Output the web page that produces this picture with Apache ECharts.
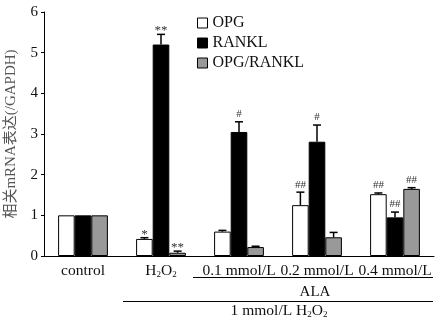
<!DOCTYPE html>
<html>
<head>
<meta charset="utf-8">
<script src="https://cdn.jsdelivr.net/npm/echarts@6/dist/echarts.min.js"></script>
<style>
  html, body { margin: 0; padding: 0; background: #fff; }
  #chart { width: 448px; height: 327px; }
</style>
</head>
<body>
<div id="chart"></div>
<script>
// groups on the x axis
const categories = ['control', 'H2O2', '0.1 mmol/L', '0.2 mmol/L', '0.4 mmol/L']
const seriesNames = ['OPG', 'RANKL', 'OPG/RANKL']

// mean values
const opg = [1.0, 0.42, 0.6, 1.25, 1.52]
const rankl = [1.0, 5.2, 3.05, 2.81, 0.95]
const ratio = [1.0, 0.08, 0.22, 0.46, 1.65]

// upper error (SD)
const opgErr = [0, 0.03, 0.03, 0.32, 0.03]
const ranklErr = [0, 0.25, 0.25, 0.41, 0.13]
const ratioErr = [0, 0.04, 0.02, 0.12, 0.03]

// significance marks
const opgSig = ['', '*', '', '##', '##']
const ranklSig = ['', '**', '#', '#', '##']
const ratioSig = ['', '**', '', '', '##']

const yTicks = [0, 1, 2, 3, 4, 5, 6]

const FONT = '"Liberation Serif", "Times New Roman", serif'
const BW = 16.6
const colors = ['#ffffff', '#000000', '#999999']

const chart = echarts.init(document.getElementById('chart'))

function errSeries(idx, vals, errs, sigs) {
  return {
    type: 'custom',
    name: seriesNames[idx] + '-err',
    z: 5,
    data: vals.map((v, i) => [i, v, errs[i]]),
    renderItem(params, api) {
      const i = api.value(0)
      const v = api.value(1)
      const e = api.value(2)
      const sig = sigs[i]
      const base = api.coord([i, v])
      const top = api.coord([i, v + e])
      const x = base[0] + (idx - 1) * BW
      const children = []
      if (e > 0) {
        children.push({
          type: 'line',
          shape: { x1: x, y1: base[1], x2: x, y2: top[1] },
          style: { stroke: '#000', lineWidth: 1.5 }
        })
        children.push({
          type: 'line',
          shape: { x1: x - 4, y1: top[1], x2: x + 4, y2: top[1] },
          style: { stroke: '#000', lineWidth: 1.5 }
        })
      }
      if (sig) {
        const star = sig.indexOf('*') >= 0
        children.push({
          type: 'text',
          style: {
            x: x,
            y: top[1] - (star ? -3 : 2),
            text: sig,
            fill: '#333',
            font: (star ? '13px ' : '11px ') + FONT,
            textAlign: 'center',
            textVerticalAlign: 'bottom'
          }
        })
      }
      return { type: 'group', children }
    }
  }
}

const subRich = {
  n: { fontFamily: FONT, fontSize: 15.5, color: '#111', lineHeight: 16 },
  s: { fontFamily: FONT, fontSize: 9, color: '#111', lineHeight: 16, verticalAlign: 'bottom', padding: [8, 0, 0, 0] }
}

chart.setOption({
  animation: false,
  grid: { left: 44, right: 14, top: 12, bottom: 71, containLabel: false, outerBoundsMode: 'none' },
  legend: {
    orient: 'vertical',
    left: 197,
    top: 15,
    padding: 0,
    itemWidth: 10,
    itemHeight: 10,
    itemGap: 4,
    icon: 'rect',
    data: seriesNames,
    itemStyle: { borderColor: '#000', borderWidth: 1 },
    textStyle: { fontFamily: FONT, fontSize: 16, color: '#111', lineHeight: 15 }
  },
  xAxis: {
    type: 'category',
    data: categories,
    axisLine: { lineStyle: { color: '#000', width: 1 } },
    axisTick: { alignWithLabel: true, length: 4, lineStyle: { color: '#000' } },
    axisLabel: {
      interval: 0,
      hideOverlap: false,
      margin: 7,
      color: '#111',
      fontFamily: FONT,
      fontSize: 15.5,
      formatter: v => v === 'H2O2' ? '{n|H}{s|2}{n|O}{s|2}' : '{n|' + v + '}',
      rich: subRich
    }
  },
  yAxis: {
    type: 'value',
    min: 0,
    max: 6,
    interval: 1,
    name: '相关mRNA表达(/GAPDH)',
    nameLocation: 'middle',
    nameGap: 25,
    nameTextStyle: { fontFamily: '"Liberation Serif", "Noto Sans CJK SC", serif', fontSize: 15, color: '#555' },
    axisLine: { show: true, lineStyle: { color: '#000', width: 1 } },
    axisTick: { show: true, length: 3, lineStyle: { color: '#000' } },
    splitLine: { show: false },
    axisLabel: {
      margin: 6,
      color: '#111',
      fontFamily: FONT,
      fontSize: 15,
      formatter: v => yTicks.includes(v) ? String(v) : ''
    }
  },
  series: [
    { type: 'bar', name: seriesNames[0], data: opg, barWidth: BW, barGap: '0%',
      itemStyle: { color: colors[0], borderColor: '#000', borderWidth: 1 } },
    { type: 'bar', name: seriesNames[1], data: rankl, barWidth: BW, barGap: '0%',
      itemStyle: { color: colors[1], borderColor: '#000', borderWidth: 1 } },
    { type: 'bar', name: seriesNames[2], data: ratio, barWidth: BW, barGap: '0%',
      itemStyle: { color: colors[2], borderColor: '#000', borderWidth: 1 } },
    errSeries(0, opg, opgErr, opgSig),
    errSeries(1, rankl, ranklErr, ranklSig),
    errSeries(2, ratio, ratioErr, ratioSig)
  ],
  graphic: [
    { type: 'line', shape: { x1: 193, y1: 277.5, x2: 433, y2: 277.5 }, style: { stroke: '#000', lineWidth: 1 } },
    { type: 'text', x: 315, y: 292, style: { text: 'ALA', font: '15px ' + FONT, fill: '#111', textAlign: 'center', textVerticalAlign: 'middle' } },
    { type: 'line', shape: { x1: 123, y1: 301.5, x2: 433, y2: 301.5 }, style: { stroke: '#000', lineWidth: 1 } },
    { type: 'text', x: 279, y: 303, style: {
        text: '{n|1 mmol/L H}{s|2}{n|O}{s|2}', textAlign: 'center', textVerticalAlign: 'top',
        rich: {
          n: { fontFamily: FONT, fontSize: 15.5, fill: '#111', lineHeight: 16 },
          s: { fontFamily: FONT, fontSize: 9, fill: '#111', lineHeight: 16, verticalAlign: 'bottom', padding: [8, 0, 0, 0] }
        } } }
  ]
})
</script>
</body>
</html>
